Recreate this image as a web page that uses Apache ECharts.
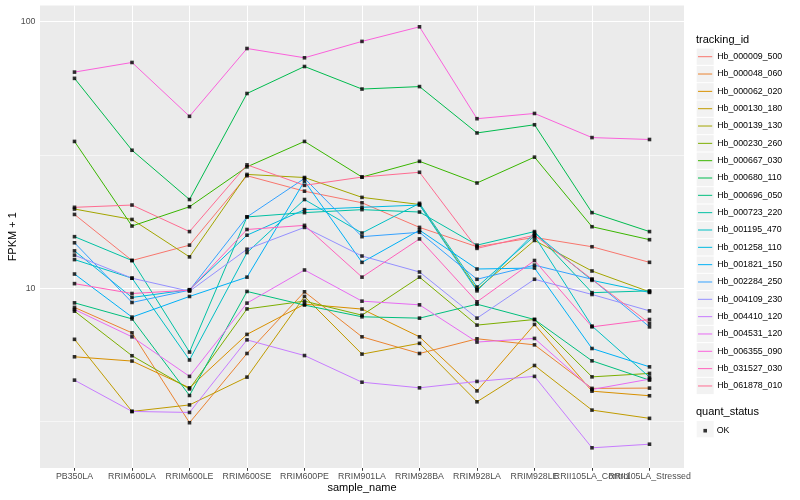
<!DOCTYPE html>
<html><head><meta charset="utf-8">
<script src="https://cdn.jsdelivr.net/npm/echarts@6/dist/echarts.min.js"></script>
<style>html,body{margin:0;padding:0;background:#fff}#c{width:800px;height:500px}</style>
</head><body><div id="c"></div>
<script>
const categories = ['PB350LA','RRIM600LA','RRIM600LE','RRIM600SE','RRIM600PE','RRIM901LA','RRIM928BA','RRIM928LA','RRIM928LE','RRII105LA_Control','RRII105LA_Stressed'];
const trackingIds = ['Hb_000009_500','Hb_000048_060','Hb_000062_020','Hb_000130_180','Hb_000139_130','Hb_000230_260','Hb_000667_030','Hb_000680_110','Hb_000696_050','Hb_000723_220','Hb_001195_470','Hb_001258_110','Hb_001821_150','Hb_002284_250','Hb_004109_230','Hb_004410_120','Hb_004531_120','Hb_006355_090','Hb_031527_030','Hb_061878_010'];
const colors = ['#F8766D','#EA8331','#D89000','#C09B00','#A3A500','#7CAE00','#39B600','#00BB4E','#00BF7D','#00C1A3','#00BFC4','#00BAE0','#00B0F6','#35A2FF','#9590FF','#C77CFF','#E76BF3','#FA62DB','#FF62BC','#FF6C91'];
const yTicks = [10, 100];
const yMinorGrid = [3.162, 31.62];

// FPKM + 1 values, one array per tracking_id, in category order
const Hb_000009_500 = [18.9, 12.7, 14.5, 26.4, 23.1, 20.9, 16.9, 14.3, 15.5, 14.3, 12.5];
const Hb_000048_060 = [8.47, 6.80, 3.13, 5.69, 9.69, 6.57, 5.69, 6.46, 6.13, 4.21, 4.22];
const Hb_000062_020 = [5.53, 5.33, 4.23, 6.71, 8.71, 8.35, 6.57, 4.12, 7.31, 4.11, 3.95];
const Hb_000130_180 = [6.43, 3.45, 3.65, 4.64, 9.31, 5.66, 6.21, 3.75, 5.13, 3.49, 3.25];
const Hb_000139_130 = [19.8, 18.1, 13.1, 26.7, 26.0, 21.9, 20.6, 9.89, 15.1, 11.6, 9.69];
const Hb_000230_260 = [8.20, 5.58, 4.19, 8.36, 8.94, 7.92, 11.0, 7.27, 7.63, 4.65, 4.79];
const Hb_000667_030 = [35.5, 17.1, 20.2, 28.5, 35.5, 26.1, 29.9, 24.8, 31.0, 17.0, 15.2];
const Hb_000680_110 = [61.2, 32.9, 21.5, 53.7, 67.8, 55.8, 57.0, 38.2, 41.0, 19.2, 16.3];
const Hb_000696_050 = [8.81, 7.67, 3.96, 9.72, 8.64, 7.81, 7.72, 8.71, 7.63, 5.34, 4.52];
const Hb_000723_220 = [15.6, 12.7, 5.76, 18.5, 19.2, 19.7, 19.3, 14.5, 16.3, 9.62, 9.77];
const Hb_001195_470 = [12.8, 10.9, 5.38, 13.6, 21.5, 16.1, 20.8, 10.1, 15.7, 7.21, 4.64];
const Hb_001258_110 = [13.8, 9.23, 9.87, 15.8, 19.7, 20.1, 20.5, 9.77, 16.1, 10.7, 9.64];
const Hb_001821_150 = [11.3, 7.79, 9.31, 11.0, 25.2, 12.5, 16.5, 11.8, 11.9, 5.94, 5.07];
const Hb_002284_250 = [14.8, 8.84, 9.83, 18.5, 25.8, 15.6, 16.2, 10.8, 12.2, 10.8, 7.16];
const Hb_004109_230 = [13.3, 10.9, 9.74, 14.0, 16.9, 13.2, 11.5, 7.72, 10.8, 9.47, 8.22];
const Hb_004410_120 = [4.52, 3.45, 3.42, 6.40, 5.59, 4.44, 4.23, 4.47, 4.67, 2.52, 2.60];
const Hb_004531_120 = [8.32, 6.57, 4.67, 8.79, 11.7, 8.94, 8.66, 6.28, 6.48, 4.17, 4.56];
const Hb_006355_090 = [64.6, 70.2, 44.1, 79.2, 73.1, 84.2, 95.5, 43.2, 45.2, 36.7, 36.1];
const Hb_031527_030 = [10.4, 9.55, 9.83, 16.6, 17.2, 11.0, 15.3, 8.89, 12.7, 7.16, 7.63];
const Hb_061878_010 = [20.1, 20.5, 16.3, 29.0, 24.3, 26.1, 27.2, 14.1, 15.8, 10.8, 7.38];

const seriesValues = [Hb_000009_500, Hb_000048_060, Hb_000062_020, Hb_000130_180, Hb_000139_130, Hb_000230_260, Hb_000667_030, Hb_000680_110, Hb_000696_050, Hb_000723_220, Hb_001195_470, Hb_001258_110, Hb_001821_150, Hb_002284_250, Hb_004109_230, Hb_004410_120, Hb_004531_120, Hb_006355_090, Hb_031527_030, Hb_061878_010];

const FONT = '"Liberation Sans", Arial, Helvetica, sans-serif';
const catIdx = categories.map((c, i) => i);
const evenIdx = catIdx.filter(i => i % 2 === 0);
const oddIdx = catIdx.filter(i => i % 2 === 1);

const lineSeries = trackingIds.map((id, k) => ({
  type: 'line', name: id, z: 2,
  symbol: 'none', silent: true, animation: false,
  lineStyle: { color: colors[k], width: 1 },
  itemStyle: { color: colors[k] },
  data: seriesValues[k].map((v, i) => [i, v])
}));

const okPoints = [];
seriesValues.forEach(arr => arr.forEach((v, i) => okPoints.push([i, v])));

const gridLines = [];
catIdx.forEach(i => gridLines.push({ xAxis: i, lineStyle: { width: 1.07 } }));
yTicks.forEach(v => gridLines.push({ yAxis: v, lineStyle: { width: 1.07 } }));
yMinorGrid.forEach(v => gridLines.push({ yAxis: v, lineStyle: { width: 0.55 } }));

const scatter = {
  type: 'scatter', name: 'OK', z: 3, silent: true, animation: false,
  symbol: 'rect', symbolSize: 3.6,
  itemStyle: { color: '#000' },
  data: okPoints,
  markLine: {
    z: 1, silent: true, animation: false, symbol: ['none', 'none'],
    label: { show: false }, emphasis: { disabled: true },
    lineStyle: { color: '#FFFFFF', type: 'solid', width: 1.07 },
    data: gridLines
  }
};

const legendCommon = { orient: 'vertical', selectedMode: false, padding: 0 };
const xLabelStyle = { formatter: v => categories[v], color: '#4D4D4D', fontSize: 8.8, margin: 4.5, fontFamily: FONT, hideOverlap: false, showMinLabel: true, showMaxLabel: true };

const option = {
  backgroundColor: '#FFFFFF',
  animation: false,
  textStyle: { fontFamily: FONT },
  title: [
    { text: 'tracking_id', left: 696, top: 34.5, padding: 0, textStyle: { fontSize: 11, fontWeight: 'normal', color: '#000', fontFamily: FONT } },
    { text: 'quant_status', left: 696, top: 406.3, padding: 0, textStyle: { fontSize: 11, fontWeight: 'normal', color: '#000', fontFamily: FONT } }
  ],
  grid: { left: 40, right: 116, top: 5.5, bottom: 32, show: true, backgroundColor: '#EBEBEB', borderWidth: 0, containLabel: false, outerBoundsMode: 'none' },
  xAxis: [
    {
      type: 'value', min: -0.6, max: 10.6, position: 'bottom',
      name: 'sample_name', nameLocation: 'middle', nameGap: 14.5, nameMoveOverlap: false,
      nameTextStyle: { fontSize: 11, color: '#000', fontFamily: FONT },
      axisLine: { show: false },
      splitLine: { show: false },
      axisTick: { show: true, customValues: catIdx, length: 2.75, lineStyle: { color: '#333333', width: 1 } },
      axisLabel: Object.assign({ customValues: evenIdx }, xLabelStyle)
    },
    {
      type: 'value', min: -0.6, max: 10.6, position: 'bottom', offset: 0,
      axisLine: { show: false },
      splitLine: { show: false },
      axisTick: { show: false },
      axisLabel: Object.assign({ customValues: oddIdx }, xLabelStyle)
    }
  ],
  yAxis: {
    type: 'log', logBase: 10, min: 2.117, max: 114.8,
    name: 'FPKM + 1', nameLocation: 'middle', nameGap: 21.5, nameRotate: 90, nameMoveOverlap: false,
    nameTextStyle: { fontSize: 11, color: '#000', fontFamily: FONT },
    axisLine: { show: false },
    splitLine: { show: false },
    axisTick: { show: true, customValues: yTicks, length: 2.75, lineStyle: { color: '#333333', width: 1 } },
    axisLabel: { customValues: yTicks, color: '#4D4D4D', fontSize: 8.8, margin: 4.5, fontFamily: FONT, showMinLabel: true, showMaxLabel: true }
  },
  legend: [
    Object.assign({}, legendCommon, { left: 696.7, top: 48.55, itemWidth: 17, itemHeight: 16.3, itemGap: 1.03, icon: 'rect', itemStyle: { color: '#F2F2F2', borderWidth: 0 }, formatter: () => '', data: trackingIds, z: 3, textStyle: { fontSize: 8.8 } }),
    Object.assign({}, legendCommon, { left: 697.5, top: 50.18, itemWidth: 14.2, itemHeight: 16.3, itemGap: 4.29, itemStyle: { opacity: 0 }, lineStyle: { width: 1 }, data: trackingIds, z: 4, textStyle: { fontSize: 8.8, color: '#000', fontFamily: FONT } }),
    Object.assign({}, legendCommon, { left: 696.7, top: 421, itemWidth: 17, itemHeight: 16.3, icon: 'rect', itemStyle: { color: '#F2F2F2', borderWidth: 0 }, formatter: () => '', data: ['OK'], z: 3, textStyle: { fontSize: 8.8 } }),
    Object.assign({}, legendCommon, { left: 703.4, top: 426.2, itemWidth: 3.6, itemHeight: 3.6, icon: 'rect', itemStyle: { color: '#000' }, data: ['OK'], z: 4, textStyle: { fontSize: 8.8, color: '#000', fontFamily: FONT, padding: [0, 0, 0, 4.7] } })
  ],
  series: lineSeries.concat([scatter])
};

const chart = echarts.init(document.getElementById('c'), null, { renderer: 'canvas' });
chart.setOption(option);
</script>
</body></html>
